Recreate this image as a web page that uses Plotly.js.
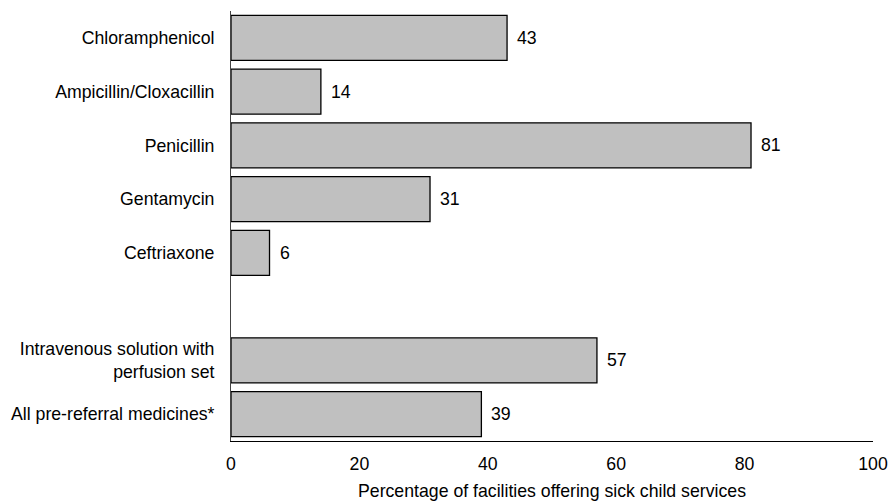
<!DOCTYPE html>
<html>
<head>
<meta charset="utf-8">
<script src="https://cdn.plot.ly/plotly-3.0.1.min.js"></script>
<style>html,body{margin:0;padding:0;background:#fff;}#chart{width:889px;height:501px;}</style>
</head>
<body>
<div id="chart"></div>
<script>
const categories = ["Chloramphenicol", "Ampicillin/Cloxacillin", "Penicillin", "Gentamycin", "Ceftriaxone", " ", "Intravenous solution with<br>perfusion set", "All pre-referral medicines*"];
const values = [43, 14, 81, 31, 6, null, 57, 39];
const xTicks = [0, 20, 40, 60, 80, 100];
const xTitle = "Percentage of facilities offering sick child services";

const FONT = "Liberation Sans, Arial, Helvetica, sans-serif";
const FS = 17.7;

const trace = {
  type: "bar",
  orientation: "h",
  y: categories,
  x: values,
  width: 0.84,
  marker: { color: "#c0c0c0", line: { color: "#000000", width: 1.3 } },
  hoverinfo: "none"
};

const annotations = categories.map((c, i) => values[i] == null ? null : ({
  x: values[i], y: c, xref: "x", yref: "y",
  text: String(values[i]), showarrow: false,
  xanchor: "left", yanchor: "middle", xshift: 8,
  font: { family: FONT, size: FS, color: "#000" }
})).filter(a => a);

const layout = {
  width: 889, height: 501,
  margin: { l: 231, r: 16, t: 11, b: 60 },
  paper_bgcolor: "#fff", plot_bgcolor: "#fff",
  showlegend: false,
  font: { family: FONT, size: FS, color: "#000" },
  xaxis: {
    range: [0, 100], tickvals: xTicks, ticktext: xTicks.map(String),
    showgrid: false, zeroline: false, showline: true, linecolor: "#000", linewidth: 1,
    ticks: "", ticklabelstandoff: 7,
    title: { text: xTitle, standoff: 11, font: { family: FONT, size: FS, color: "#000" } },
    fixedrange: true
  },
  yaxis: {
    type: "category", categoryorder: "array", categoryarray: categories,
    range: [7.5, -0.5], autorange: false,
    showgrid: false, zeroline: false, showline: true, linecolor: "#444", linewidth: 1,
    ticks: "", ticklabelstandoff: 12,
    fixedrange: true
  },
  annotations: annotations
};

Plotly.newPlot("chart", [trace], layout, { displayModeBar: false, staticPlot: true });
</script>
</body>
</html>
